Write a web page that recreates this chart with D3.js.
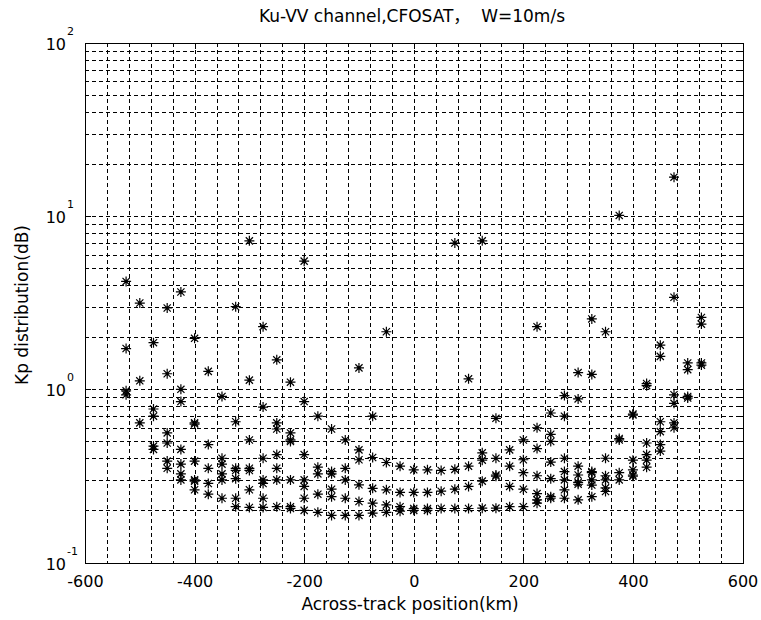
<!DOCTYPE html>
<html>
<head>
<meta charset="utf-8">
<script src="https://d3js.org/d3.v7.min.js"></script>
<style>
  body { margin: 0; background: #fff; }
  text { font-family: "DejaVu Sans", "Noto Sans CJK SC", sans-serif; fill: #000; }
</style>
</head>
<body>
<div id="chart"></div>
<script>
// across-track cell positions (km)
const acrossTrack = [-525,-500,-475,-450,-425,-400,-375,-350,-325,-300,-275,-250,-225,-200,-175,-150,-125,-100,-75,-50,-25,
  0,
  25,50,75,100,125,150,175,200,225,250,275,300,325,350,375,400,425,450,475,500,525];

// Kp values read per position, sorted low -> high (null = no point)
const kp1 = [0.93,0.64,0.45,0.35,0.30,0.263,0.248,0.235,0.21,0.208,0.208,0.21,0.205,0.20,0.195,0.187,0.187,0.187,0.193,0.195,0.198,
  0.20,
  0.20,0.205,0.205,0.205,0.206,0.206,0.21,0.21,0.22,0.235,0.235,0.23,0.24,0.257,0.30,0.315,0.355,0.44,0.60,0.89,1.38];
const kp2 = [0.98,1.12,0.47,0.385,0.325,0.295,0.286,0.30,0.235,0.263,0.235,0.30,0.21,0.235,0.248,0.24,0.235,0.225,0.22,0.215,0.21,
  0.205,
  0.205,0.258,0.265,0.275,0.295,0.315,0.275,0.265,0.23,0.24,0.263,0.283,0.28,0.27,0.33,0.32,0.39,0.48,0.64,0.91,1.42];
const kp3 = [1.72,3.15,0.70,0.49,0.37,0.30,0.35,0.325,0.305,0.34,0.286,0.35,0.30,0.275,0.325,0.265,0.30,0.281,0.268,0.263,0.254,
  0.254,
  0.254,0.34,0.345,0.36,0.39,0.32,0.36,0.33,0.25,0.305,0.30,0.29,0.30,0.30,0.51,0.343,0.42,0.57,0.83,1.30,2.38];
const kp4 = [4.2,null,0.77,0.56,0.45,0.385,0.48,0.37,0.34,0.35,0.30,0.42,0.50,0.30,0.355,0.325,0.35,0.392,0.404,0.378,0.36,
  0.343,
  0.343,null,7.0,1.15,0.43,0.40,0.447,0.392,0.317,0.38,0.335,0.32,0.33,0.317,0.52,0.39,0.49,0.65,0.93,1.42,2.6];
const kp5 = [null,null,1.86,1.23,0.85,0.63,1.27,0.40,0.35,0.51,0.40,0.59,0.51,0.42,0.70,0.335,0.51,0.447,0.70,2.15,null,
  null,
  null,null,null,null,7.2,0.68,null,0.51,0.455,0.50,0.40,0.36,0.335,0.40,10.1,0.71,1.05,1.55,3.4,null,null];
const kp6 = [null,null,null,2.95,1.0,0.64,null,0.91,0.65,1.13,0.79,0.64,0.56,0.85,null,0.59,null,1.33,null,null,null,
  null,
  null,null,null,null,null,null,null,null,0.60,0.55,0.70,0.88,1.22,2.15,null,0.72,1.08,1.8,16.8,null,null];
const kp7 = [null,null,null,null,3.65,1.97,null,null,3.0,7.2,2.3,1.48,1.1,5.5,null,null,null,null,null,null,null,
  null,
  null,null,null,null,null,null,null,null,2.3,0.73,0.92,1.25,2.55,null,null,null,null,null,null,null,null];

const xTicks = [-600,-400,-200,0,200,400,600];
const yTicks = [0.1,1,10,100];
const yExp = ["-1","0","1","2"];

const W = 761, H = 620;
const plotL = 85, plotR = 742.5, plotT = 43, plotB = 562.5;

const xScale = d3.scaleLinear().domain([-600, 600]).range([plotL, plotR]);
const yScale = d3.scaleLog().domain([0.1, 100]).range([plotB, plotT]);

const svg = d3.select("#chart").append("svg")
    .attr("width", W)
    .attr("height", H);

svg.append("rect").attr("width", W).attr("height", H).attr("fill", "#fff");

// dashed grid, every 40 km and every log minor step
const grid = svg.append("g").attr("stroke", "#000").attr("stroke-width", 1)
    .attr("stroke-dasharray", "4,3").attr("shape-rendering", "crispEdges");

grid.selectAll(".vgrid")
    .data(d3.range(-560, 600, 40)).enter()
    .append("line")
    .attr("x1", d => Math.round(xScale(d)) + 0.5)
    .attr("x2", d => Math.round(xScale(d)) + 0.5)
    .attr("y1", plotT).attr("y2", plotB);

grid.selectAll(".hgrid")
    .data(yScale.ticks().filter(d => d > 0.1 && d < 100)).enter()
    .append("line")
    .attr("y1", d => Math.round(yScale(d)) + 0.5)
    .attr("y2", d => Math.round(yScale(d)) + 0.5)
    .attr("x1", plotL).attr("x2", plotR);

// tick marks (inward) on all four sides
const ticks = svg.append("g").attr("stroke", "#000").attr("stroke-width", 1).attr("shape-rendering", "crispEdges");

xTicks.forEach(function(t) {
    var px = Math.round(xScale(t)) + 0.5;
    ticks.append("line").attr("x1", px).attr("x2", px).attr("y1", plotB).attr("y2", plotB - 6);
    ticks.append("line").attr("x1", px).attr("x2", px).attr("y1", plotT).attr("y2", plotT + 6);
});

yScale.ticks().forEach(function(t) {
    var py = Math.round(yScale(t)) + 0.5;
    var len = yTicks.indexOf(t) >= 0 ? 6 : 3;
    ticks.append("line").attr("y1", py).attr("y2", py).attr("x1", plotL).attr("x2", plotL + len);
    ticks.append("line").attr("y1", py).attr("y2", py).attr("x1", plotR).attr("x2", plotR - len);
});

// axis box
svg.append("rect")
    .attr("x", plotL + 0.5).attr("y", plotT + 0.5)
    .attr("width", plotR - plotL).attr("height", plotB - plotT)
    .attr("fill", "none").attr("stroke", "#000").attr("shape-rendering", "crispEdges");

// x tick labels (plain hyphen minus like the original)
const xAxis = d3.axisBottom(xScale).tickValues(xTicks).tickSize(0).tickPadding(13)
    .tickFormat(d => String(d));
const xg = svg.append("g").attr("transform", `translate(0, ${plotB})`).call(xAxis);
xg.select(".domain").remove();
xg.selectAll("text").style("font-size", "16px").style("font-family", "DejaVu Sans");

// y tick labels 10^n
yTicks.forEach(function(t, i) {
    var py = yScale(t);
    svg.append("text")
        .attr("x", 66).attr("y", py + 7)
        .attr("text-anchor", "end")
        .style("font-size", "16px")
        .text("10");
    svg.append("text")
        .attr("x", 67).attr("y", py - 8)
        .style("font-size", "11px")
        .text(yExp[i]);
});

// star markers (MATLAB '*')
const star = "M-5,0H5M0,-5V5M-3.6,-3.6L3.6,3.6M-3.6,3.6L3.6,-3.6";
const series = [kp1, kp2, kp3, kp4, kp5, kp6, kp7];

const points = [];
series.forEach(function(s) {
    s.forEach(function(v, i) {
        if (v != null) points.push({ x: acrossTrack[i], kp: v });
    });
});

const marks = svg.append("g").attr("class", "stars")
    .selectAll("g")
    .data(points).enter()
    .append("g")
    .attr("transform", d => `translate(${xScale(d.x)}, ${yScale(d.kp)})`);

marks.append("path")
    .attr("d", star)
    .attr("fill", "none")
    .attr("stroke", "#000")
    .attr("stroke-width", 1.2);

marks.append("circle")
    .attr("r", 1.6)
    .attr("fill", "#000");

// title and axis labels
svg.append("text")
    .attr("x", 412).attr("y", 22)
    .attr("text-anchor", "middle")
    .style("font-size", "17px")
    .style("white-space", "pre")
    .text("Ku-VV channel,CFOSAT，  W=10m/s");

svg.append("text")
    .attr("x", 410).attr("y", 610)
    .attr("text-anchor", "middle")
    .style("font-size", "17px")
    .text("Across-track position(km)");

svg.append("text")
    .attr("transform", "translate(28, 305) rotate(-90)")
    .attr("text-anchor", "middle")
    .style("font-size", "17px")
    .text("Kp distribution(dB)");
</script>
</body>
</html>
